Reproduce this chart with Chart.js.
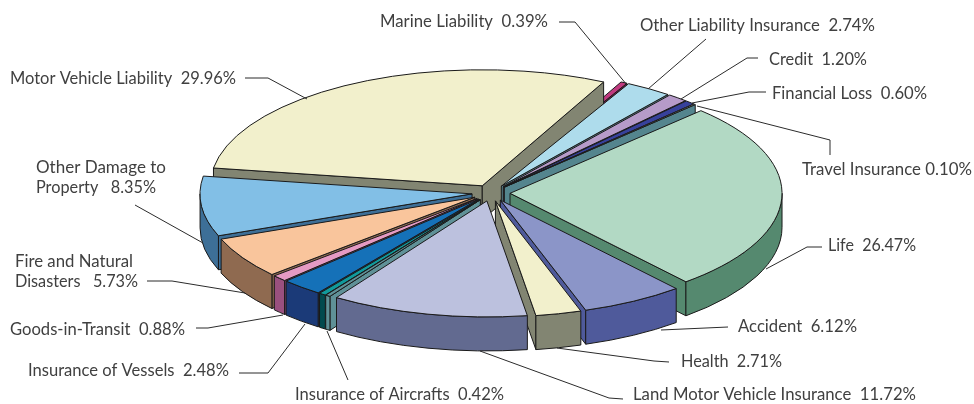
<!DOCTYPE html>
<html>
<head>
<meta charset="utf-8">
<title>Insurance premium shares</title>
<script src="https://cdn.jsdelivr.net/npm/chart.js@4/dist/chart.umd.min.js"></script>
<style>
    html, body { margin: 0; padding: 0; background: #fff; overflow: hidden; }
    canvas { display: block; }
</style>
</head>
<body>
<canvas id="premiumChart" width="974" height="404"></canvas>
<script>
// Chart data, clockwise from the top
const categories = [
    'Marine Liability', 'Other Liability Insurance', 'Credit', 'Financial Loss', 'Travel Insurance',
    'Life', 'Accident', 'Health', 'Land Motor Vehicle Insurance', '', 'Insurance of Aircrafts',
    'Insurance of Vessels', 'Goods-in-Transit', 'Fire and Natural Disasters',
    'Other Damage to Property', 'Motor Vehicle Liability'
];
const shares = [0.39, 2.74, 1.20, 0.60, 0.10, 26.47, 6.12, 2.71, 11.72, 0.30, 0.42, 2.48, 0.88, 5.73, 8.35, 29.96];

const topColors = [
    '#c0397f', '#aedcec', '#b69bc9', '#37419b', '#d5ecec', '#b2d9c4', '#8b95c8', '#f2f0cc',
    '#bcc1de', '#5f9197', '#119a9b', '#1571b8', '#e59ac3', '#f9c59c', '#82bfe6', '#f2f0cc'
];
const wallColors = [
    '#7a2050', '#5c8793', '#6d5a80', '#1f2560', '#54858e', '#55896f', '#4f5a9b', '#828572',
    '#626a90', '#5f9197', '#024a4e', '#1b3a78', '#9a507f', '#8f6a50', '#3d6f97', '#828572'
];

// Pie tilt, in page pixels
const view = { cx: 491, cy: 193, rx: 272, ry: 116, depth: 34, explode: 0.07 };

// Label text, baseline start and fitted width
const labelText = [
    { lines: ['Marine Liability  0.39%'], x: 380, y: 27, w: [168] },
    { lines: ['Other Liability Insurance  2.74%'], x: 640, y: 31, w: [235] },
    { lines: ['Credit  1.20%'], x: 769, y: 65, w: [98] },
    { lines: ['Financial Loss  0.60%'], x: 772, y: 99, w: [155] },
    { lines: ['Travel Insurance 0.10%'], x: 802, y: 175, w: [170] },
    { lines: ['Life  26.47%'], x: 828, y: 251, w: [88] },
    { lines: ['Accident  6.12%'], x: 738, y: 332, w: [119] },
    { lines: ['Health  2.71%'], x: 681, y: 367, w: [101] },
    { lines: ['Land Motor Vehicle Insurance  11.72%'], x: 633, y: 400, w: [283] },
    { lines: ['Insurance of Aircrafts  0.42%'], x: 295, y: 400, w: [209] },
    { lines: ['Insurance of Vessels  2.48%'], x: 28, y: 376, w: [201] },
    { lines: ['Goods-in-Transit  0.88%'], x: 10, y: 335, w: [175] },
    { lines: ['Fire and Natural', 'Disasters   5.73%'], x: 15, y: 267, w: [118, 123] },
    { lines: ['Other Damage to', 'Property   8.35%'], x: 36, y: 173, w: [131, 120] },
    { lines: ['Motor Vehicle Liability  29.96%'], x: 10, y: 84, w: [226] }
];

// Leader lines next to the labels
const leaders = [
    [[559, 22], [575, 22], [627, 85]],
    [[706, 39], [648, 89]],
    [[758, 58], [747, 58], [681, 99]],
    [[766, 92], [749, 92], [692, 103]],
    [[830, 155], [830, 140], [697, 106]],
    [[822, 247], [807, 247], [766, 269]],
    [[728, 327], [661, 330]],
    [[669, 362], [654, 361], [557, 348]],
    [[623, 399], [609, 398], [480, 351]],
    [[348, 380], [327, 331]],
    [[239, 373], [268, 373], [305, 324]],
    [[196, 328], [208, 328], [283, 315]],
    [[147, 281], [172, 281], [245, 293]],
    [[135, 205], [203, 243]],
    [[245, 78], [268, 78], [307, 99]]
];

// Move the library's round arc onto the tilted, exploded position
function placeArc(ctx, arc, drop) {
    const mid = (arc.startAngle + arc.endAngle) / 2;
    const r = arc.outerRadius;
    ctx.translate(view.cx, view.cy + drop);
    ctx.scale(view.rx / r, view.ry / r);
    ctx.translate(Math.cos(mid) * view.explode * r, Math.sin(mid) * view.explode * r);
    ctx.translate(-arc.x, -arc.y);
}

// Paths are built inside the tilt and stroked outside, so lines stay 1px wide
function strokeWedge(ctx, arc) {
    ctx.save();
    placeArc(ctx, arc, 0);
    ctx.beginPath();
    ctx.moveTo(arc.x, arc.y);
    ctx.arc(arc.x, arc.y, arc.outerRadius, arc.startAngle, arc.endAngle);
    ctx.closePath();
    ctx.restore();
    ctx.stroke();
}

function paintFace(ctx, color, build) {
    ctx.beginPath();
    build();
    ctx.closePath();
    ctx.fillStyle = color;
    ctx.fill();
    ctx.stroke();
}

function radialFace(ctx, arc, angle, color) {
    const px = arc.x + Math.cos(angle) * arc.outerRadius;
    const py = arc.y + Math.sin(angle) * arc.outerRadius;
    paintFace(ctx, color, () => {
        ctx.save();
        placeArc(ctx, arc, 0);
        ctx.moveTo(arc.x, arc.y);
        ctx.lineTo(px, py);
        ctx.restore();
        ctx.save();
        placeArc(ctx, arc, view.depth);
        ctx.lineTo(px, py);
        ctx.lineTo(arc.x, arc.y);
        ctx.restore();
    });
}

function outerFace(ctx, arc, from, to, color) {
    paintFace(ctx, color, () => {
        ctx.save();
        placeArc(ctx, arc, 0);
        ctx.arc(arc.x, arc.y, arc.outerRadius, from, to);
        ctx.restore();
        ctx.save();
        placeArc(ctx, arc, view.depth);
        ctx.arc(arc.x, arc.y, arc.outerRadius, to, from, true);
        ctx.restore();
    });
}

const tiltedPie = {
    id: 'tiltedPie',
    beforeDatasetsDraw(chart) {
        const ctx = chart.ctx;
        const arcs = chart.getDatasetMeta(0).data.map((arc, i) => ({ arc, i }));
        // Back slices first so the front ones cover them
        arcs.sort((a, b) => Math.sin((a.arc.startAngle + a.arc.endAngle) / 2) - Math.sin((b.arc.startAngle + b.arc.endAngle) / 2));
        ctx.lineWidth = 1;
        ctx.strokeStyle = '#1a1a1a';
        ctx.lineJoin = 'round';
        arcs.forEach(({ arc, i }) => {
            // Only the faces turned towards the viewer
            if (Math.cos(arc.startAngle) < 0) radialFace(ctx, arc, arc.startAngle, wallColors[i]);
            if (Math.cos(arc.endAngle) > 0) radialFace(ctx, arc, arc.endAngle, wallColors[i]);
            const from = Math.max(arc.startAngle, 0);
            const to = Math.min(arc.endAngle, Math.PI);
            if (to > from) outerFace(ctx, arc, from, to, wallColors[i]);
            ctx.save();
            placeArc(ctx, arc, 0);
            arc.draw(ctx);
            ctx.restore();
            strokeWedge(ctx, arc);
        });
        return false;
    },
    afterDraw(chart) {
        const ctx = chart.ctx;
        ctx.save();
        ctx.strokeStyle = '#2b2b2b';
        ctx.lineWidth = 1;
        leaders.forEach(points => {
            ctx.beginPath();
            points.forEach((p, i) => i ? ctx.lineTo(p[0], p[1]) : ctx.moveTo(p[0], p[1]));
            ctx.stroke();
        });
        ctx.fillStyle = '#404040';
        ctx.font = '17px Lato';
        ctx.textBaseline = 'alphabetic';
        labelText.forEach(label => {
            label.lines.forEach((line, i) => {
                ctx.fillText(line, label.x, label.y + i * 20, label.w[i]);
            });
        });
        ctx.restore();
    }
};

new Chart(document.getElementById('premiumChart'), {
    type: 'pie',
    data: {
        labels: categories,
        datasets: [{
            data: shares,
            backgroundColor: topColors,
            borderWidth: 0
        }]
    },
    options: {
        responsive: false,
        animation: false,
        rotation: 26.5,
        plugins: {
            legend: { display: false },
            tooltip: { enabled: false }
        }
    },
    plugins: [tiltedPie]
});
</script>
</body>
</html>
